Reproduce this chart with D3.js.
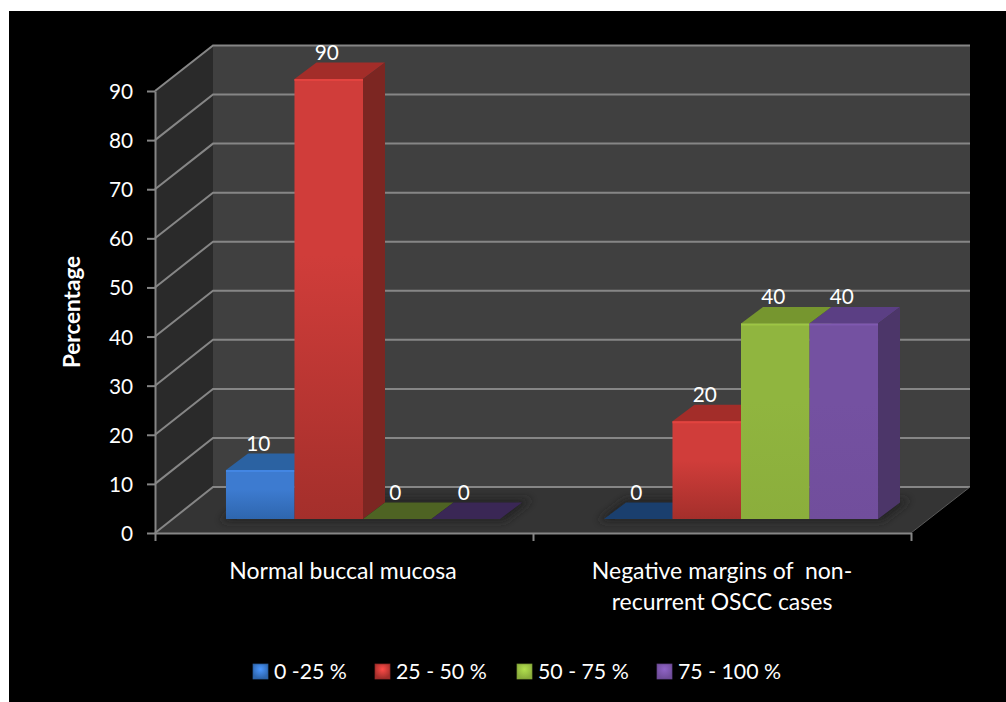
<!DOCTYPE html>
<html><head><meta charset="utf-8">
<script src="https://cdn.jsdelivr.net/npm/d3@7"></script>
<style>
html,body{margin:0;padding:0;background:#fff;overflow:hidden}
svg{display:block}
text{font-family:Lato,"Open Sans",sans-serif;fill:#fff;white-space:pre}
</style></head><body><svg id="c" width="1006" height="702"></svg>
<script>
const categories = ["Normal buccal mucosa", "Negative margins of  non-|recurrent OSCC cases"];
const seriesNames = ["0 -25 %", "25 - 50 %", "50 - 75 %", "75 - 100 %"];
const s0to25 = [10, 0];
const s25to50 = [90, 20];
const s50to75 = [0, 40];
const s75to100 = [0, 40];
const yTicks = [0,10,20,30,40,50,60,70,80,90];
const seriesValues = [s0to25, s25to50, s50to75, s75to100];
const frontColors = [["#3d7bd0","#2e66ae"],["#d03d3a","#a42f2b"],["#90b53f","#8bae3c"],["#7451a1","#714e9c"]];
const topColors = ["#2b62a2","#a32d29","#76962f","#5b3f84"];
const sideColors = ["#255690","#7c2622","#5f7a26","#4c3669"];
const zeroColors = ["#1a3f6e","#7c2622","#4e6323","#3a2755"];
const legendX = [253, 375, 517, 657];

const svg = d3.select("#c");
const defs = svg.append("defs");
svg.append("rect").attr("x",9).attr("y",11).attr("width",997).attr("height",691).attr("fill","#000");

const depthW = {dx:58, dy:-46};   // floor depth
const depthB = {dx:22, dy:-16.5}; // bar depth
const yFront = d3.scaleLinear().domain([0,90]).range([533,91]);
const yBack  = d3.scaleLinear().domain([0,90]).range([487,45.5]);
const yBar   = d3.scaleLinear().domain([0,90]).range([519,79]);
const xAxisScale = d3.scaleLinear().domain([0,2]).range([155,911]);
const xCat = d3.scaleBand().domain(categories).range([174,930]).paddingInner(0.275).paddingOuter(0.1375);
const xSer = d3.scaleBand().domain(seriesNames).range([0,xCat.bandwidth()]);
const poly = pts => pts.map(p=>p.join(",")).join(" ");

// walls and floor
const L=xAxisScale(0), R=xAxisScale(2), BL=L+depthW.dx, BR=R+depthW.dx+1;
svg.append("polygon").attr("points",poly([[L,yFront(90)],[BL,yBack(90)],[BL,yBack(0)],[L,yFront(0)]])).attr("fill","#2a2a2a");
svg.append("polygon").attr("points",poly([[BL,yBack(90)],[BR,yBack(90)],[BR,yBack(0)],[BL,yBack(0)]])).attr("fill","#404040");
svg.append("polygon").attr("points",poly([[L,yFront(0)],[BL,yBack(0)],[BR,yBack(0)],[R,yFront(0)]])).attr("fill","#343434");

// gridlines
const grid = svg.append("g").attr("stroke","#868686").attr("stroke-width",2).attr("fill","none");
yTicks.forEach(t=>{
  grid.append("polyline").attr("points",poly([[L,yFront(t)],[BL,yBack(t)],[BR,yBack(t)]]));
});
svg.append("line").attr("x1",R).attr("y1",yFront(0)).attr("x2",BR).attr("y2",yBack(0)).attr("stroke","#5a5a5a").attr("stroke-width",1);

// floor shadow
defs.append("filter").attr("id","blur").attr("x","-10%").attr("y","-50%").attr("width","120%").attr("height","200%")
  .append("feGaussianBlur").attr("stdDeviation",4);
categories.forEach(c=>{
  const x0=xCat(c), x1=x0+xCat.bandwidth();
  svg.append("polygon").attr("filter","url(#blur)").attr("fill","#222")
    .attr("points",poly([[x0-6,yBar(0)+2],[x0+depthB.dx,yBar(0)+depthB.dy-3],[x1+depthB.dx+10,yBar(0)+depthB.dy-3],[x1+4,yBar(0)+2]]));
});

// gradients
frontColors.forEach((fc,i)=>{
  const g=defs.append("linearGradient").attr("id","f"+i).attr("x1",0).attr("y1",0).attr("x2",0).attr("y2",1);
  g.append("stop").attr("offset","0%").attr("stop-color",fc[0]);
  g.append("stop").attr("offset","40%").attr("stop-color",fc[0]);
  g.append("stop").attr("offset","100%").attr("stop-color",fc[1]);
  const r=defs.append("radialGradient").attr("id","l"+i).attr("cx","50%").attr("cy","35%").attr("r","60%");
  r.append("stop").attr("offset","0%").attr("stop-color",d3.color(fc[0]).brighter(0.6));
  r.append("stop").attr("offset","100%").attr("stop-color",fc[1]);
});

// bars
const bw = xSer.bandwidth();
categories.forEach((c,ci)=>{
  seriesNames.forEach((s,si)=>{
    const v=seriesValues[si][ci];
    const x0=xCat(c)+xSer(s), x1=x0+bw, yt=yBar(v), yb=yBar(0);
    const g=svg.append("g");
    g.append("polygon").attr("fill",v===0?zeroColors[si]:topColors[si])
      .attr("points",poly([[x0,yt],[x0+depthB.dx,yt+depthB.dy],[x1+depthB.dx,yt+depthB.dy],[x1,yt]]));
    if(v>0){
      g.append("polygon").attr("fill",sideColors[si])
        .attr("points",poly([[x1,yt],[x1+depthB.dx,yt+depthB.dy],[x1+depthB.dx,yb+depthB.dy],[x1,yb]]));
      g.append("rect").attr("x",x0).attr("y",yt).attr("width",bw).attr("height",yb-yt).attr("fill",`url(#f${si})`);
      g.append("line").attr("x1",x0).attr("x2",x1).attr("y1",yt+1).attr("y2",yt+1)
        .attr("stroke",d3.color(frontColors[si][0]).brighter(0.25)).attr("stroke-width",2);
    }
  });
});

// axes
const axisY = svg.append("g").attr("transform",`translate(${L},0)`)
  .call(d3.axisLeft(yFront).tickValues(yTicks).tickSize(8).tickPadding(14).tickSizeOuter(0));
axisY.selectAll("path,line").attr("stroke","#868686").attr("stroke-width",2);
axisY.selectAll("text").attr("font-size",20.8).attr("font-family","Lato").attr("fill","#fff").attr("dy","0.36em");
const axisX = svg.append("g").attr("transform",`translate(0,${yFront(0)})`)
  .call(d3.axisBottom(xAxisScale).tickValues([0,1,2]).tickFormat("").tickSize(8).tickSizeOuter(0));
axisX.selectAll("path,line").attr("stroke","#868686").attr("stroke-width",2);

// value labels
categories.forEach((c,ci)=>{
  seriesNames.forEach((s,si)=>{
    const v=seriesValues[si][ci];
    svg.append("text").attr("x",xCat(c)+xSer(s)+bw/2-2).attr("y",yBar(v)-19)
      .attr("text-anchor","middle").attr("font-size",20.8).text(v);
  });
});

// category labels
const xLabel = d3.scaleBand().domain(categories).range([L,R]);
categories.forEach((c,ci)=>{
  c.split("|").forEach((line,li)=>{
    svg.append("text").attr("x",xLabel(c)+xLabel.bandwidth()/2-(ci===0?1:0)).attr("y",579+li*31)
      .attr("text-anchor","middle").attr("font-size",23).text(line);
  });
});

// axis title
svg.append("text").attr("transform","translate(80,312) rotate(-90)").attr("text-anchor","middle")
  .attr("font-size",22.5).attr("font-weight",700).text("Percentage");

// legend
seriesNames.forEach((s,i)=>{
  svg.append("rect").attr("x",legendX[i]).attr("y",664).attr("width",15).attr("height",15)
    .attr("fill",`url(#l${i})`).attr("stroke",d3.color(frontColors[i][1]).darker(0.3)).attr("stroke-width",0.7);
  svg.append("text").attr("x",legendX[i]+21).attr("y",679).attr("font-size",21.3).text(s);
});
</script></body></html>
